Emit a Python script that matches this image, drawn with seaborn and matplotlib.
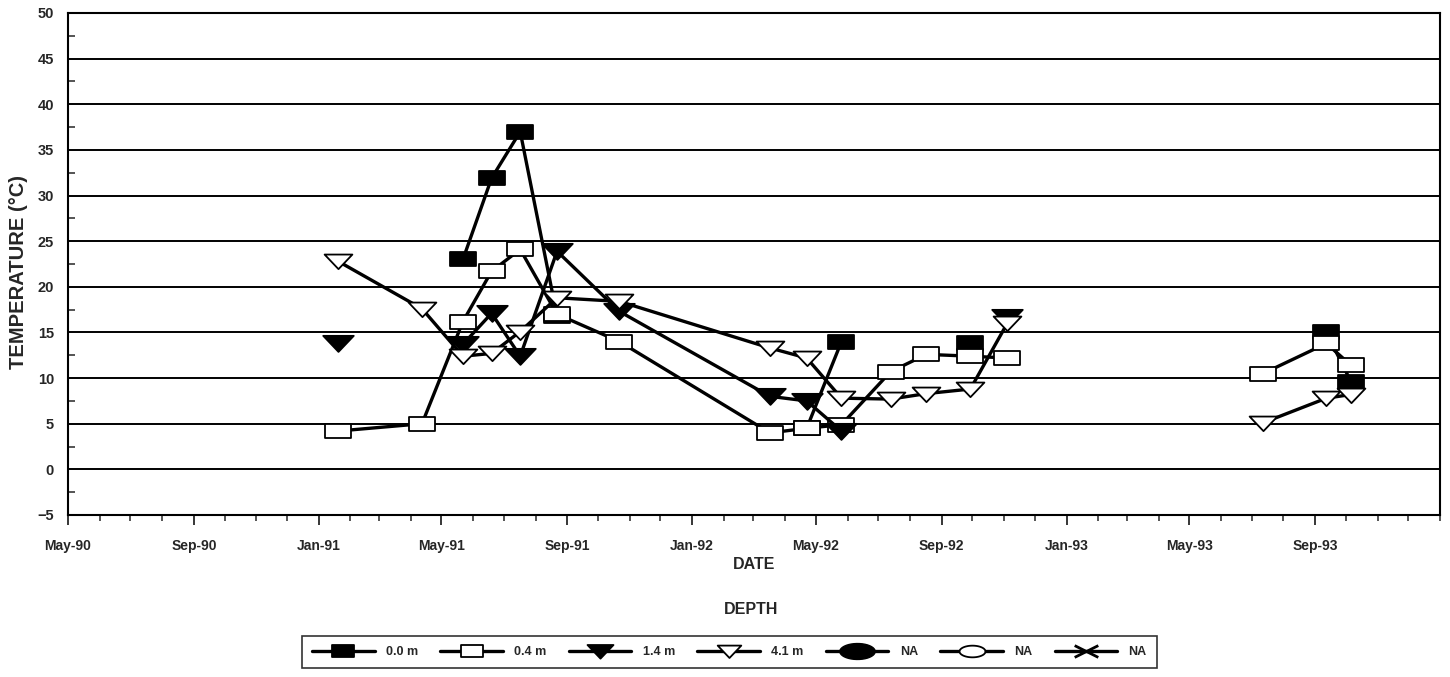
import numpy as np
import pandas as pd
import matplotlib
matplotlib.use("Agg")
import matplotlib.pyplot as plt
import matplotlib.dates as mdates
from matplotlib.path import Path
from matplotlib.lines import Line2D
import seaborn as sns

# ---------------- data ----------------
sample_dates = ["1991-01-20", "1991-04-12", "1991-05-22", "1991-06-19", "1991-07-17",
                "1991-08-22", "1991-10-22", "1992-03-17", "1992-04-22", "1992-05-26",
                "1992-07-13", "1992-08-17", "1992-09-29", "1992-11-04", "1993-03-01",
                "1993-07-12", "1993-09-12", "1993-10-06"]
temp_00 = [None, None, 23.0, 31.9, 37.0, 16.8, None, None, 4.5, 14.0,
           None, None, 13.8, None, None, None, 15.0, 9.6]
temp_04 = [4.2, 5.0, 16.2, 21.7, 24.1, 17.0, 14.0, 4.0, 4.5, 4.9,
           10.7, 12.6, 12.4, 12.2, None, 10.5, 13.8, 11.4]
temp_14 = [13.8, None, 13.7, 17.1, 12.4, 23.9, 17.3, 8.0, 7.5, 4.2,
           None, None, None, 16.7, None, None, None, None]
temp_41 = [22.8, 17.6, 12.4, 12.7, 15.1, 18.8, 18.4, 13.3, 12.2, 7.8,
           7.7, 8.3, 8.8, 16.0, None, 5.1, 7.8, 8.2]
depth_labels = ["0.0 m", "0.4 m", "1.4 m", "4.1 m", "NA", "NA", "NA"]
y_ticks = [-5, 0, 5, 10, 15, 20, 25, 30, 35, 40, 45, 50]
x_tick_dates = ["1990-05-01", "1990-09-01", "1991-01-01", "1991-05-01", "1991-09-01",
                "1992-01-01", "1992-05-01", "1992-09-01", "1993-01-01", "1993-05-01",
                "1993-09-01"]

# ---------------- styling ----------------
sns.set_theme(style="white")
plt.rcParams["font.family"] = ["Liberation Sans", "DejaVu Sans"]
plt.rcParams["font.weight"] = "bold"

SQ = Path([(-1, -0.5), (1, -0.5), (1, 0.5), (-1, 0.5), (-1, -0.5)],
          [Path.MOVETO, Path.LINETO, Path.LINETO, Path.LINETO, Path.CLOSEPOLY])
TRI = Path([(-1, 0.5), (1, 0.5), (0, -0.55), (-1, 0.5)],
           [Path.MOVETO, Path.LINETO, Path.LINETO, Path.CLOSEPOLY])
ELL_t = np.linspace(0, 2 * np.pi, 40)
ELL = Path(np.column_stack([np.cos(ELL_t), 0.45 * np.sin(ELL_t)]))
XM = Path([(-1, -0.5), (1, 0.5), (-1, 0.5), (1, -0.5)],
          [Path.MOVETO, Path.LINETO, Path.MOVETO, Path.LINETO])

styles = [
    dict(marker=SQ, markersize=19, markerfacecolor="black"),
    dict(marker=SQ, markersize=19, markerfacecolor="white"),
    dict(marker=TRI, markersize=22, markerfacecolor="black"),
    dict(marker=TRI, markersize=20, markerfacecolor="white"),
]
series = [temp_00, temp_04, temp_14, temp_41]

fig = plt.figure(figsize=(14.5, 6.77), dpi=100)
ax = fig.add_axes([68 / 1450, 1 - 515 / 677, (1440 - 68) / 1450, (515 - 13) / 677])

dates = pd.to_datetime(sample_dates)
for lab, vals, st in zip(depth_labels[:4], series, styles):
    df = pd.DataFrame({"date": dates, "temp": pd.array(vals, dtype="float")})
    df["seg"] = df["temp"].isna().cumsum()
    df = df.dropna()
    sns.lineplot(data=df, x="date", y="temp", units="seg", estimator=None,
                 ax=ax, color="black", linewidth=2.4, legend=False,
                 markeredgecolor="black", markeredgewidth=1.3, zorder=3, **st)

ax.set_xlim(pd.Timestamp("1990-05-01"), pd.Timestamp("1994-01-01"))
ax.set_ylim(-5, 50)
ax.set_yticks(y_ticks)
ax.yaxis.set_minor_locator(matplotlib.ticker.MultipleLocator(2.5))
ax.yaxis.grid(True, which="major", color="black", linewidth=1.4)
ax.xaxis.grid(False)
ax.set_xticks(mdates.date2num(pd.to_datetime(x_tick_dates)))
ax.xaxis.set_minor_locator(mdates.MonthLocator())
ax.xaxis.set_major_formatter(mdates.DateFormatter("%b-%y"))
ax.tick_params(axis="x", which="major", direction="out", length=7, width=1.3,
               labelsize=10, pad=10, bottom=True)
ax.tick_params(axis="x", which="minor", direction="out", length=4, width=1.1, bottom=True)
ax.tick_params(axis="y", which="major", length=0, labelsize=10.5, pad=10, left=True)
ax.tick_params(axis="y", which="minor", direction="in", length=5, width=1.1, left=True)
for lbl in ax.get_xticklabels() + ax.get_yticklabels():
    lbl.set_fontweight("bold")
for sp in ax.spines.values():
    sp.set_color("black")
    sp.set_linewidth(1.5)
ax.set_xlabel("DATE", fontsize=11.5, fontweight="bold", labelpad=3)
ax.set_ylabel("TEMPERATURE (°C)", fontsize=14.5, fontweight="bold")
ax.yaxis.set_label_coords(-0.029, 0.484)

fig.text(0.518, 1 - 610 / 677, "DEPTH", ha="center", va="center",
         fontsize=11.5, fontweight="bold")

handles = [
    Line2D([], [], color="black", linewidth=2.4, markeredgecolor="black", markeredgewidth=1.3, **styles[0]),
    Line2D([], [], color="black", linewidth=2.4, markeredgecolor="black", markeredgewidth=1.3, **styles[1]),
    Line2D([], [], color="black", linewidth=2.4, markeredgecolor="black", markeredgewidth=1.3, **styles[2]),
    Line2D([], [], color="black", linewidth=2.4, markeredgecolor="black", markeredgewidth=1.3, **styles[3]),
    Line2D([], [], color="black", linewidth=2.4, marker=ELL, markersize=30,
           markerfacecolor="black", markeredgecolor="black"),
    Line2D([], [], color="black", linewidth=2.4, marker=ELL, markersize=22,
           markerfacecolor="white", markeredgecolor="black", markeredgewidth=1.3),
    Line2D([], [], color="black", linewidth=2.4, marker=XM, markersize=20,
           markeredgecolor="black", markeredgewidth=2.0),
]
leg = fig.legend(handles, depth_labels, loc="center", bbox_to_anchor=(0.503, 1 - 652 / 677),
                 ncol=7, frameon=True, fontsize=9, handlelength=5.0, handletextpad=0.9,
                 columnspacing=1.8, markerscale=0.85, borderpad=0.8, fancybox=False)
leg.get_frame().set_edgecolor("black")
leg.get_frame().set_linewidth(1.2)
for t in leg.get_texts():
    t.set_fontweight("bold")

fig.savefig("out.png", dpi=100)
